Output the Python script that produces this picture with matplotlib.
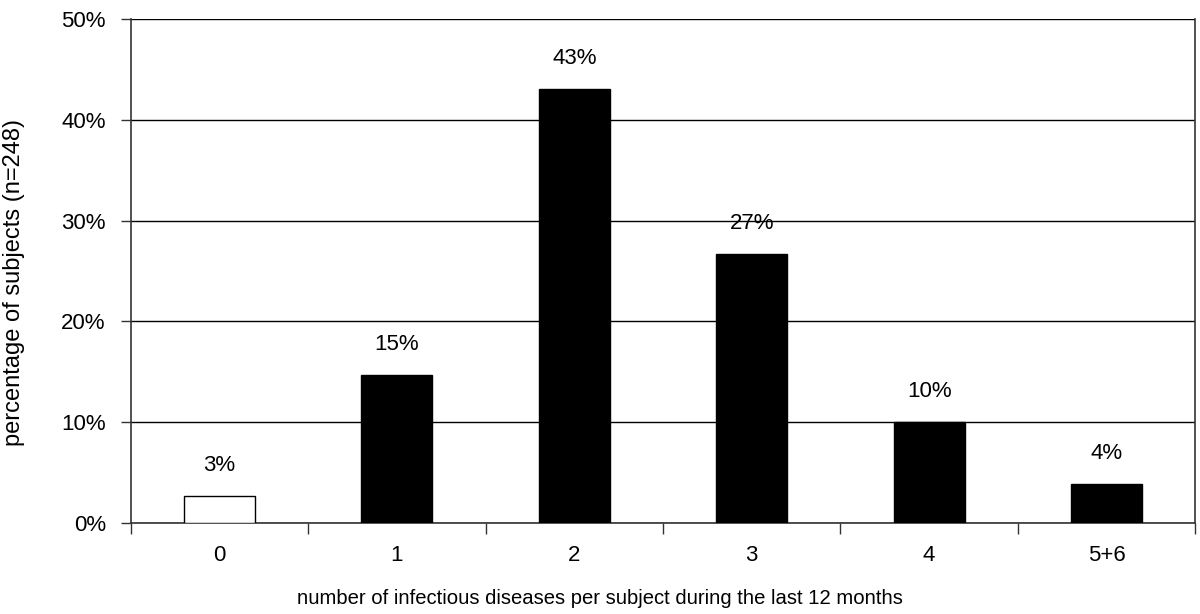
import numpy as np
import matplotlib.pyplot as plt

plt.rcParams['font.family'] = ['Liberation Sans', 'DejaVu Sans']

categories = ['0', '1', '2', '3', '4', '5+6']
values = [2.7, 14.7, 43.1, 26.7, 10.0, 3.9]
labels = ['3%', '15%', '43%', '27%', '10%', '4%']
colors = ['white', 'black', 'black', 'black', 'black', 'black']

fig = plt.figure(figsize=(12, 6.14), dpi=100)
ax = fig.add_axes([0.109, 0.148, 0.887, 0.821])

x = np.arange(len(categories))
ax.bar(x, values, width=0.4, color=colors, edgecolor='black', linewidth=1, zorder=3)
for xi, v, lab in zip(x, values, labels):
  ax.annotate(lab, (xi, v), xytext=(0, 22), textcoords='offset points',
              ha='center', va='center', fontsize=16)

ax.set_xlim(-0.5, len(categories) - 0.5)
ax.set_ylim(0, 50)
ax.set_yticks(np.arange(0, 51, 10))
ax.set_yticklabels([f'{t}%' for t in range(0, 51, 10)])
ax.yaxis.grid(True, color='black', linewidth=1, zorder=0)

ax.set_xticks(x)
ax.set_xticklabels(categories)
ax.set_xticks(np.arange(-0.5, len(categories)), minor=True)
ax.tick_params(axis='x', which='major', length=0, pad=16, labelsize=16)
ax.tick_params(axis='x', which='minor', length=8, width=1, color='#333333')
ax.tick_params(axis='y', length=7, width=1, labelsize=16, color='#333333', pad=11)

for side in ['left', 'right', 'bottom']:
  ax.spines[side].set_color('#333333')
  ax.spines[side].set_linewidth(1.2)
ax.spines['top'].set_visible(False)

ax.set_xlabel('number of infectious diseases per subject during the last 12 months', fontsize=14.6)
ax.set_ylabel('percentage of subjects (n=248)', fontsize=17)
ax.xaxis.set_label_coords(0.441, -0.13)
ax.yaxis.set_label_coords(-0.0996, 0.478)

plt.savefig('out.png', dpi=100)
plt.close()
